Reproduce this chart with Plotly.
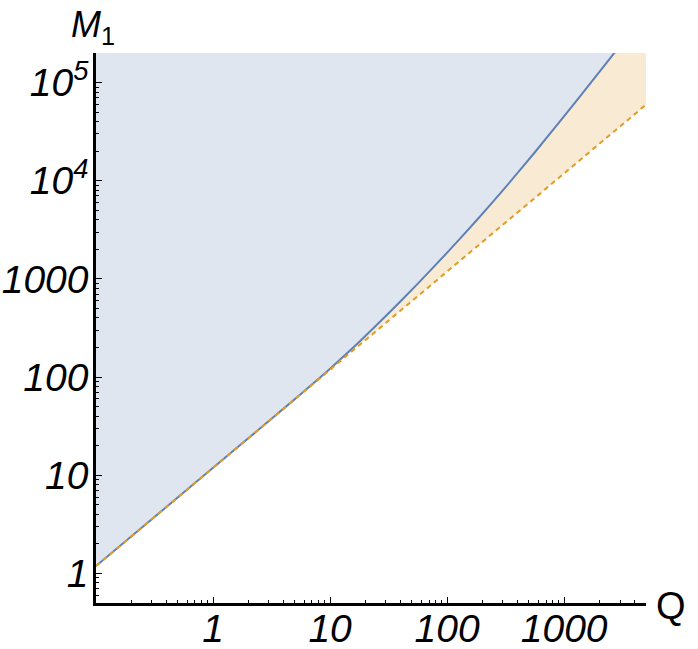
import plotly.graph_objects as go

# blue boundary curve M1(Q)
q_blue = [0.1, 1, 3.16, 5.6, 10, 13.3, 17.8, 31.6, 56.2, 100, 178, 316, 562,
          1000, 1778, 3162, 3981]
m_blue = [1.19, 11.9, 37.6, 67, 121.6, 166, 229, 447, 896, 1851, 3936, 8610,
          19500, 45450, 107800, 257000, 365000]

# orange dashed lower bound (straight on log-log)
q_orange = [0.1, 5000]
m_orange = [1.19, 59500]

# axis ticks
x_ticks = [1, 10, 100, 1000]
x_ticktext = ["1", "10", "100", "1000"]
y_ticks = [1, 10, 100, 1000, 1e4, 1e5]
y_ticktext = ["1", "10", "100", "1000", "10<sup>4</sup>", "10<sup>5</sup>"]

BLUE = "#5e81b5"
ORANGE = "#e19c24"
BLUE_FILL = "#dfe6f0"
ORANGE_FILL = "#f9ebd3"
TOP = 1e7

x_minor = [k * 10 ** e for e in range(-1, 4) for k in range(2, 10)]
y_minor = [k * 10 ** e for e in range(-1, 6) for k in range(2, 10)]

fig = go.Figure()

# region above the blue curve
fig.add_trace(go.Scatter(
    x=q_blue + [q_blue[-1], q_blue[0]],
    y=m_blue + [TOP, TOP],
    fill="toself", fillcolor=BLUE_FILL, mode="none", hoverinfo="skip"))

# region between the dashed line and the blue curve
fig.add_trace(go.Scatter(
    x=q_orange + [q_orange[-1]] + q_blue[::-1],
    y=m_orange + [TOP] + m_blue[::-1],
    fill="toself", fillcolor=ORANGE_FILL, mode="none", hoverinfo="skip"))

fig.add_trace(go.Scatter(x=q_blue, y=m_blue, mode="lines",
                         line=dict(color=BLUE, width=2, shape="spline", smoothing=0.6),
                         hoverinfo="skip"))
fig.add_trace(go.Scatter(x=q_orange, y=m_orange, mode="lines",
                         line=dict(color=ORANGE, width=2, dash="5px,4px"),
                         hoverinfo="skip"))

tick_font = dict(family="Liberation Sans", size=39, color="black", style="italic")

fig.update_xaxes(
    type="log", range=[-1, 3.699], showgrid=False, zeroline=False,
    automargin=False,
    showline=True, linecolor="black", linewidth=3,
    tickmode="array", tickvals=x_ticks, ticktext=x_ticktext,
    ticks="inside", ticklen=6, tickwidth=1, tickcolor="black",
    tickfont=tick_font, ticklabelstandoff=-11,
    minor=dict(tickmode="array", tickvals=x_minor, ticks="inside",
               ticklen=3.5, tickwidth=1, tickcolor="black", showgrid=False))

fig.update_yaxes(
    type="log", range=[-0.301, 5.301], showgrid=False, zeroline=False,
    automargin=False,
    showline=True, linecolor="black", linewidth=2.5,
    tickmode="array", tickvals=y_ticks, ticktext=y_ticktext,
    ticks="inside", ticklen=6, tickwidth=1, tickcolor="black",
    tickfont=tick_font, ticklabelstandoff=-3,
    minor=dict(tickmode="array", tickvals=y_minor, ticks="inside",
               ticklen=3.5, tickwidth=1, tickcolor="black", showgrid=False))

fig.add_annotation(text="<i>M</i><sub>1</sub>", xref="paper", yref="paper",
                   x=-0.049, y=1.048, xanchor="left", yanchor="middle",
                   showarrow=False,
                   font=dict(family="Liberation Sans", size=36, color="black"))
fig.add_annotation(text="Q", xref="paper", yref="paper",
                   x=1.045, y=-0.005, xanchor="center", yanchor="middle",
                   showarrow=False,
                   font=dict(family="Liberation Sans", size=38, color="black"))

fig.update_layout(
    width=698, height=649,
    margin=dict(l=96, r=52, t=53, b=46),
    plot_bgcolor="white", paper_bgcolor="white",
    showlegend=False, hovermode=False)

# drop the browser's default page margin so the figure fills the window
fig.write_html("out.html", config={"displayModeBar": False},
               post_script="document.body.style.margin='0';")
